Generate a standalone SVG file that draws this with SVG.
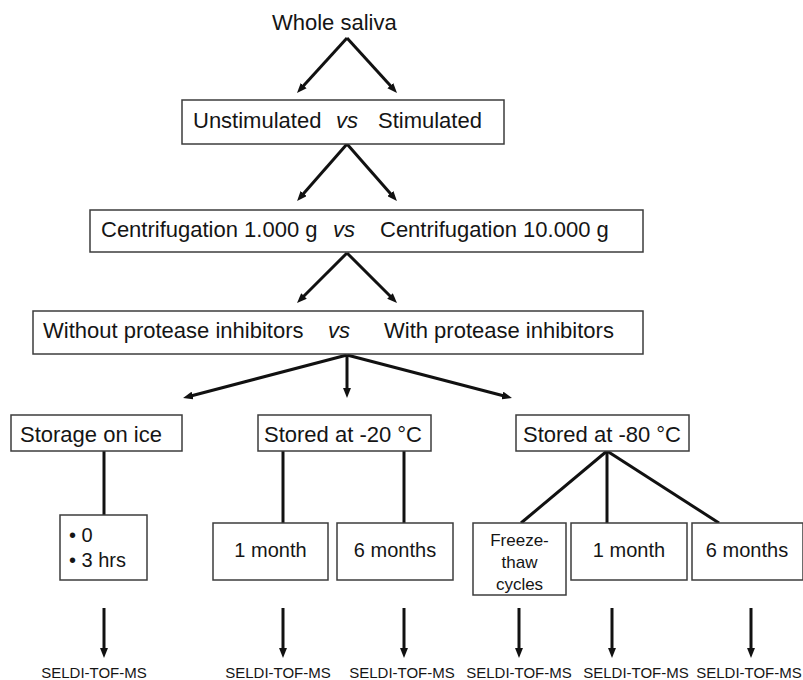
<svg xmlns="http://www.w3.org/2000/svg" width="803" height="680" viewBox="0 0 803 680">
<style>
.bg{fill:#ffffff}
.box{fill:#ffffff;stroke:#3c3c3c;stroke-width:1.5}
.t{font-family:"Liberation Sans",Arial,sans-serif;font-size:22px;fill:#151515}
.m{font-size:20px}
.s{font-size:17px}
.it{font-style:italic}
.sel{font-family:"Liberation Sans",Arial,sans-serif;font-size:15px;fill:#151515;text-anchor:middle}
.c{text-anchor:middle}
.ln{stroke:#111111;stroke-width:3;fill:none}
.ar{stroke:#111111;stroke-width:3;fill:none;marker-end:url(#ah)}
</style>
<defs>
<marker id="ah" viewBox="0 0 10 8" refX="4" refY="4" markerWidth="3.3" markerHeight="2.7" orient="auto" markerUnits="strokeWidth">
<path d="M0,0 L10,4 L0,8 z" fill="#111111"/>
</marker>
</defs>
<rect class="bg" x="0" y="0" width="803" height="680"/>

<g id="connectors">
<line class="ar" x1="347" y1="38" x2="301" y2="88.6"/>
<line class="ar" x1="347" y1="38" x2="393" y2="88.6"/>
<line class="ar" x1="347" y1="144" x2="301" y2="196.5"/>
<line class="ar" x1="347" y1="144" x2="393" y2="196.5"/>
<line class="ar" x1="347" y1="253" x2="301.2" y2="298.8"/>
<line class="ar" x1="347" y1="253" x2="392.8" y2="298.8"/>
<line class="ar" x1="347" y1="355" x2="188.8" y2="396.5"/>
<line class="ar" x1="347" y1="355" x2="347" y2="392"/>
<line class="ar" x1="347" y1="355" x2="506.2" y2="396.5"/>
<line class="ln" x1="104" y1="451" x2="104" y2="515"/>
<line class="ln" x1="283" y1="451" x2="283" y2="523"/>
<line class="ln" x1="404" y1="451" x2="404" y2="523"/>
<line class="ln" x1="607" y1="451" x2="521" y2="523"/>
<line class="ln" x1="607" y1="451" x2="607" y2="523"/>
<line class="ln" x1="607" y1="451" x2="719" y2="523"/>
<line class="ar" x1="104" y1="608" x2="104" y2="652"/>
<line class="ar" x1="283" y1="608" x2="283" y2="652"/>
<line class="ar" x1="404" y1="608" x2="404" y2="652"/>
<line class="ar" x1="519" y1="608" x2="519" y2="652"/>
<line class="ar" x1="612" y1="608" x2="612" y2="652"/>
<line class="ar" x1="751" y1="608" x2="751" y2="652"/>
</g>

<g id="whole-saliva">
<text class="t" x="272" y="30">Whole saliva</text>
</g>

<g id="stimulation">
<rect class="box" x="182" y="100" width="322" height="44"/>
<text class="t" x="193" y="128">Unstimulated</text>
<text class="t it" x="336" y="128">vs</text>
<text class="t" x="378" y="128">Stimulated</text>
</g>

<g id="centrifugation">
<rect class="box" x="90" y="210" width="553" height="42"/>
<text class="t" x="101" y="237">Centrifugation 1.000 g</text>
<text class="t it" x="333" y="237">vs</text>
<text class="t" x="380" y="237">Centrifugation 10.000 g</text>
</g>

<g id="protease">
<rect class="box" x="33" y="311" width="610" height="43"/>
<text class="t" x="43" y="338">Without protease inhibitors</text>
<text class="t it" x="328" y="338">vs</text>
<text class="t" x="384" y="338">With protease inhibitors</text>
</g>

<g id="ice">
<rect class="box" x="11" y="415" width="171" height="36"/>
<text class="t" x="20" y="442">Storage on ice</text>
</g>

<g id="minus20">
<rect class="box" x="258" y="415" width="173" height="36"/>
<text class="t" x="264" y="442">Stored at -20 °C</text>
</g>

<g id="minus80">
<rect class="box" x="516" y="415" width="173" height="36"/>
<text class="t" x="523" y="442">Stored at -80 °C</text>
</g>

<g id="ice-times">
<rect class="box" x="60" y="515" width="87" height="65"/>
<text class="t m" x="69" y="542">• 0</text>
<text class="t m" x="69" y="567">• 3 hrs</text>
</g>

<g id="m20-1month">
<rect class="box" x="213" y="523" width="115" height="57"/>
<text class="t m c" x="270.5" y="557">1 month</text>
</g>

<g id="m20-6months">
<rect class="box" x="337" y="523" width="116" height="57"/>
<text class="t m c" x="395" y="557">6 months</text>
</g>

<g id="m80-freeze">
<rect class="box" x="473" y="523" width="93" height="72"/>
<text class="t s c" x="519.5" y="546">Freeze-</text>
<text class="t s c" x="519.5" y="568">thaw</text>
<text class="t s c" x="519.5" y="590">cycles</text>
</g>

<g id="m80-1month">
<rect class="box" x="571" y="523" width="116" height="57"/>
<text class="t m c" x="629" y="557">1 month</text>
</g>

<g id="m80-6months">
<rect class="box" x="692" y="523" width="111" height="57"/>
<text class="t m c" x="747" y="557">6 months</text>
</g>

<g id="seldi">
<text class="sel" x="94" y="678">SELDI-TOF-MS</text>
<text class="sel" x="278" y="678">SELDI-TOF-MS</text>
<text class="sel" x="402" y="678">SELDI-TOF-MS</text>
<text class="sel" x="519" y="678">SELDI-TOF-MS</text>
<text class="sel" x="636" y="678">SELDI-TOF-MS</text>
<text class="sel" x="749" y="678">SELDI-TOF-MS</text>
</g>
</svg>
